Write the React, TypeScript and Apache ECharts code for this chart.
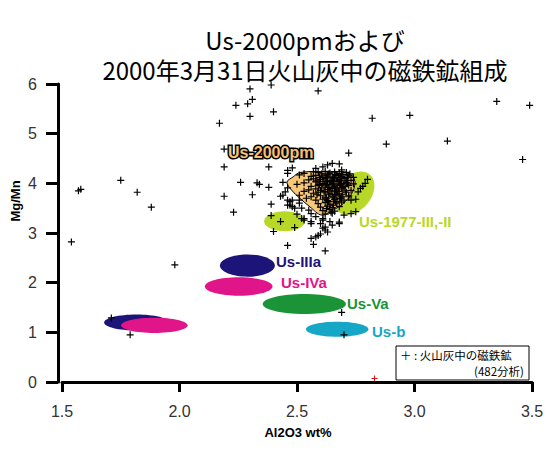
import { useEffect, useRef } from "react";
import * as echarts from "echarts";

const titleLines = ["Us-2000pmおよび", "2000年3月31日火山灰中の磁鉄鉱組成"];
const xAxisName = "Al2O3 wt%";
const yAxisName = "Mg/Mn";
const legendLines = ["＋ : 火山灰中の磁鉄鉱", "(482分析)"];

// reference fields as ellipses: centre (Al2O3, Mg/Mn), semi-axes in data units, tilt in degrees
const fieldNames = ["Us-IIIa(2)", "Us-IVa(2)", "Us-IIIa", "Us-IVa", "Us-Va", "Us-b", "Us-1977-II", "Us-1977-III"];
const fieldCx = [1.817, 1.893, 2.289, 2.252, 2.531, 2.671, 2.447, 2.743];
const fieldCy = [1.197, 1.141, 2.344, 1.922, 1.569, 1.062, 3.239, 3.803];
const fieldRx = [0.138, 0.142, 0.117, 0.144, 0.177, 0.133, 0.087, 0.104];
const fieldRy = [0.161, 0.155, 0.225, 0.185, 0.201, 0.151, 0.201, 0.342];
const fieldTilt = [0, 0, 0, 0, 0, 0, 0, 50];

// Us-2000pm field outline
const pmX = [2.484, 2.513, 2.619, 2.711, 2.738, 2.747, 2.733, 2.697, 2.654, 2.605, 2.555, 2.513, 2.477, 2.457];
const pmY = [4.131, 4.219, 4.235, 4.225, 4.135, 4.004, 3.797, 3.596, 3.461, 3.36, 3.527, 3.696, 3.863, 4.024];

// magnetite in the ash [Al2O3 wt%, Mg/Mn]
const ashPoints: [number, number][] = [
  [2.39, 5.98], [2.30, 5.90], [2.59, 5.86], [2.31, 5.69], [2.29, 5.60], [2.24, 5.57], [2.30, 5.35], [2.40, 5.44],
  [2.17, 5.21], [2.82, 5.31], [2.88, 4.79], [2.19, 4.69], [2.72, 4.61], [2.19, 4.33], [2.38, 4.33], [3.35, 5.65],
  [3.49, 5.57], [2.98, 5.37], [3.14, 4.85], [3.46, 4.48],
  [1.58, 3.88], [1.57, 3.85], [1.75, 4.06], [1.82, 3.82], [1.88, 3.52], [1.54, 2.82], [1.98, 2.36], [1.71, 1.29], [1.79, 0.95],
  [2.19, 3.74], [2.23, 3.42], [2.26, 4.02], [2.33, 4.01], [2.34, 3.98], [2.38, 3.92], [2.31, 3.77], [2.39, 3.58],
  [2.46, 4.26], [2.48, 4.31], [2.44, 4.02], [2.46, 3.91], [2.44, 3.76], [2.46, 3.66], [2.48, 3.66], [2.47, 3.56],
  [2.49, 3.50], [2.52, 3.50], [2.53, 3.29], [2.46, 4.20], [2.45, 3.83], [2.46, 3.56], [2.48, 3.53], [2.51, 3.60],
  [2.55, 3.46], [2.56, 3.39], [2.58, 3.33], [2.61, 3.29], [2.64, 3.23], [2.60, 3.19], [2.62, 3.12], [2.56, 3.23],
  [2.53, 3.26], [2.43, 3.74], [2.47, 3.63], [2.51, 3.66],
  [2.39, 3.35], [2.43, 3.23], [2.49, 3.11], [2.50, 3.38], [2.52, 3.29], [2.40, 3.03], [2.56, 3.19], [2.59, 2.95],
  [2.60, 2.98], [2.56, 2.89], [2.63, 3.02], [2.57, 2.77], [2.46, 2.75], [2.62, 2.64], [2.65, 3.16], [2.68, 3.22],
  [2.61, 3.26], [2.61, 3.10], [2.58, 2.92], [2.62, 3.06], [2.68, 3.19], [2.69, 1.40], [2.70, 0.95],
  [2.65, 4.40], [2.68, 4.39], [2.63, 4.37], [2.61, 4.33], [2.58, 4.30], [2.69, 4.27], [2.57, 4.23], [2.53, 4.20], [2.51, 4.17],
  [2.80, 4.08], [2.79, 4.00], [2.78, 3.94], [2.76, 3.83], [2.75, 3.68], [2.73, 3.66], [2.75, 3.43], [2.73, 3.39],
  [2.70, 3.36], [2.72, 3.73], [2.77, 3.90],
  [2.59, 4.22], [2.62, 4.24], [2.64, 4.21], [2.66, 4.23], [2.68, 4.20], [2.71, 4.22],
  [2.56, 4.14], [2.58, 4.16], [2.61, 4.15], [2.63, 4.17], [2.65, 4.13], [2.67, 4.16], [2.69, 4.14], [2.72, 4.15], [2.74, 4.12],
  [2.55, 4.07], [2.57, 4.09], [2.60, 4.08], [2.62, 4.10], [2.64, 4.06], [2.66, 4.09], [2.68, 4.07], [2.70, 4.10], [2.73, 4.06],
  [2.53, 4.01], [2.58, 4.03], [2.61, 4.00], [2.63, 4.03], [2.65, 4.01], [2.67, 4.04], [2.69, 4.00], [2.71, 4.02], [2.74, 3.99],
  [2.56, 3.94], [2.59, 3.96], [2.62, 3.95], [2.64, 3.97], [2.66, 3.93], [2.68, 3.96], [2.70, 3.94], [2.72, 3.96],
  [2.55, 3.87], [2.58, 3.89], [2.60, 3.86], [2.63, 3.88], [2.65, 3.90], [2.67, 3.87], [2.69, 3.89], [2.73, 3.86],
  [2.57, 3.80], [2.59, 3.82], [2.62, 3.81], [2.64, 3.79], [2.66, 3.83], [2.68, 3.80], [2.71, 3.82],
  [2.56, 3.73], [2.60, 3.75], [2.62, 3.72], [2.65, 3.74], [2.67, 3.76], [2.69, 3.73], [2.72, 3.75],
  [2.58, 3.66], [2.61, 3.68], [2.63, 3.65], [2.66, 3.67], [2.68, 3.69], [2.70, 3.66],
  [2.59, 3.59], [2.62, 3.61], [2.64, 3.58], [2.67, 3.60], [2.69, 3.62],
  [2.60, 3.52], [2.63, 3.54], [2.65, 3.51], [2.68, 3.53],
  [2.61, 3.45], [2.64, 3.47], [2.66, 3.44], [2.62, 3.38], [2.65, 3.40],
  [2.50, 3.98], [2.53, 3.84], [2.51, 3.76], [2.54, 3.70],
  [2.605, 4.19], [2.635, 4.19], [2.665, 4.18], [2.695, 4.18], [2.725, 4.19],
  [2.595, 4.12], [2.625, 4.12], [2.655, 4.11], [2.685, 4.12], [2.715, 4.12],
  [2.585, 4.05], [2.615, 4.04], [2.645, 4.04], [2.675, 4.05], [2.705, 4.05],
  [2.595, 3.98], [2.625, 3.98], [2.655, 3.99], [2.685, 3.98], [2.715, 3.99],
  [2.605, 3.91], [2.635, 3.92], [2.665, 3.91], [2.695, 3.92],
  [2.615, 3.84], [2.645, 3.85], [2.675, 3.84], [2.705, 3.85],
  [2.585, 3.77], [2.635, 3.77], [2.665, 3.78], [2.695, 3.77],
  [2.625, 3.70], [2.655, 3.71], [2.685, 3.70],
  [2.635, 3.63], [2.665, 3.63], [2.655, 3.56], [2.625, 3.49], [2.645, 3.42],
];
const redPoints: [number, number][] = [[2.83, 0.07]];

const FIELD_COLORS = ["#1c1478", "#e0158a", "#1c1478", "#e0158a", "#1a9436", "#16a6c6", "#b8d828", "#b8d828"];
const PLUS = "path://M2.9,0h1.2v2.9h2.9v1.2h-2.9v2.9h-1.2v-2.9h-2.9v-1.2h2.9z";
const LABEL_FONT = '"Liberation Sans", Arial, sans-serif';
const CJK_FONT = '"Noto Sans CJK JP", sans-serif';

export default function App() {
  const ref = useRef<HTMLDivElement>(null);
  useEffect(() => {
    if (!ref.current) return;
    const chart = echarts.init(ref.current, null, { renderer: "svg" });
    const fieldData = fieldCx.map((cx, i) => [cx, fieldCy[i], fieldRx[i], fieldRy[i], fieldTilt[i]]);
    const label = (text: string, x: number, y: number, color: string) => ({
      type: "text",
      x,
      y,
      z: 50,
      style: { text, fill: color, font: `bold 15px ${LABEL_FONT}`, align: "left", verticalAlign: "middle", textAlign: "left", textVerticalAlign: "middle" },
    });
    chart.setOption({
      animation: false,
      backgroundColor: "#fff",
      grid: { left: 62, right: 25, top: 84, bottom: 73 },
      xAxis: {
        type: "value",
        min: 1.5,
        max: 3.5,
        interval: 0.5,
        offset: 1,
        splitLine: { show: false },
        axisLine: { lineStyle: { color: "#000", width: 3 } },
        axisTick: { length: 10, lineStyle: { color: "#000", width: 3 } },
        axisLabel: { margin: 20, fontSize: 16, color: "#333", fontFamily: LABEL_FONT, formatter: (v: number) => v.toFixed(1) },
      },
      yAxis: {
        type: "value",
        min: 0,
        max: 6,
        interval: 1,
        offset: 4,
        splitLine: { show: false },
        axisLine: { lineStyle: { color: "#000", width: 3 } },
        axisTick: { length: 12, lineStyle: { color: "#000", width: 3 } },
        axisLabel: { margin: 21, fontSize: 16, color: "#333", fontFamily: LABEL_FONT },
      },
      series: [
        {
          type: "custom",
          name: "fields",
          data: fieldData,
          z: 1,
          renderItem: (params: any, api: any) => {
            const c = api.coord([api.value(0), api.value(1)]);
            const rx = api.size([api.value(2), 0])[0];
            const ry = api.size([0, api.value(3)])[1];
            return {
              type: "ellipse",
              x: c[0],
              y: c[1],
              rotation: (api.value(4) * Math.PI) / 180,
              shape: { cx: 0, cy: 0, rx, ry },
              style: { fill: FIELD_COLORS[params.dataIndex] },
            };
          },
        },
        {
          type: "custom",
          name: "Us-2000pm",
          data: [[pmX[0], pmY[0]]],
          z: 2,
          renderItem: (_p: any, api: any) => ({
            type: "polygon",
            shape: { points: pmX.map((x, i) => api.coord([x, pmY[i]])), smooth: 0.35 },
            style: { fill: "#f8c878", stroke: "#000", lineWidth: 1 },
          }),
        },
        {
          type: "scatter",
          data: ashPoints,
          symbol: PLUS,
          symbolSize: 7,
          z: 3,
          itemStyle: { color: "#000", opacity: 1 },
        },
        {
          type: "scatter",
          data: redPoints,
          symbol: PLUS,
          symbolSize: 6,
          z: 3,
          itemStyle: { color: "#d01010", opacity: 1 },
        },
      ],
      graphic: [
        { type: "text", x: 305, y: 54, style: { text: titleLines.join("\n"), fill: "#000", font: `24px ${CJK_FONT}`, lineHeight: 30, align: "center", verticalAlign: "middle", textAlign: "center", textVerticalAlign: "middle" } },
        { type: "text", x: 298, y: 432, style: { text: xAxisName, fill: "#000", font: `bold 13px ${LABEL_FONT}`, align: "center", verticalAlign: "middle", textAlign: "center", textVerticalAlign: "middle" } },
        { type: "text", x: 15, y: 201, rotation: Math.PI / 2, style: { text: yAxisName, fill: "#000", font: `bold 13px ${LABEL_FONT}`, align: "center", verticalAlign: "middle", textAlign: "center", textVerticalAlign: "middle" } },
        { type: "text", x: 228, y: 152, z: 50, style: { text: "Us-2000pm", fill: "#000", stroke: "#000", lineWidth: 3, font: `bold 16px ${LABEL_FONT}`, align: "left", verticalAlign: "middle", textAlign: "left", textVerticalAlign: "middle" } },
        { type: "text", x: 228, y: 152, z: 51, style: { text: "Us-2000pm", fill: "#f8c070", font: `bold 16px ${LABEL_FONT}`, align: "left", verticalAlign: "middle", textAlign: "left", textVerticalAlign: "middle" } },
        label("Us-1977-III,-II", 359, 221, "#b8d828"),
        label("Us-IIIa", 276, 261, "#1c1478"),
        label("Us-IVa", 281, 282, "#e0158a"),
        label("Us-Va", 347, 303, "#1a9436"),
        label("Us-b", 372, 331, "#16a6c6"),
        { type: "rect", x: 396, y: 346, z: 40, shape: { width: 133, height: 34 }, style: { fill: "#fff", stroke: "#000", lineWidth: 1 } },
        { type: "text", x: 400, y: 355, z: 41, style: { text: legendLines[0], fill: "#000", font: `11.5px ${CJK_FONT}`, align: "left", verticalAlign: "middle", textAlign: "left", textVerticalAlign: "middle" } },
        { type: "text", x: 524, y: 371, z: 41, style: { text: legendLines[1], fill: "#000", font: `11.5px ${CJK_FONT}`, align: "right", verticalAlign: "middle", textAlign: "right", textVerticalAlign: "middle" } },
      ],
    });
    return () => chart.dispose();
  }, []);
  return <div ref={ref} style={{ width: 557, height: 455, position: "absolute", left: 0, top: 0 }} />;
}
